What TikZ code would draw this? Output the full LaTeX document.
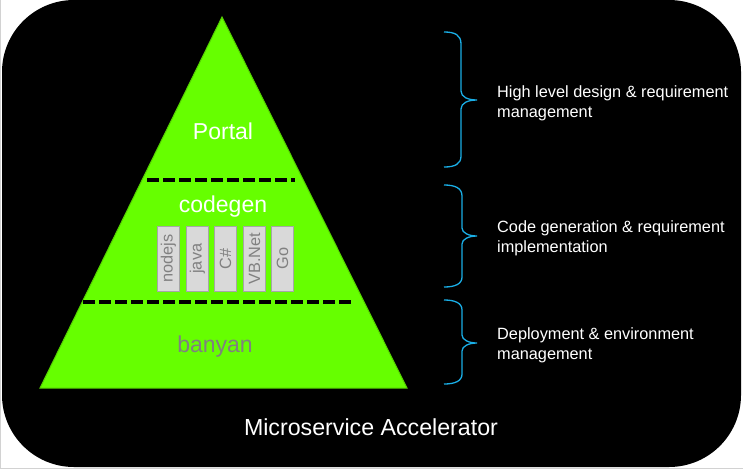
\documentclass[tikz,border=0pt]{standalone}
\usepackage{fontspec}
\setmainfont{Liberation Sans}
\definecolor{layergreen}{HTML}{66FF00}
\definecolor{layeredge}{HTML}{55D000}
\definecolor{langfill}{HTML}{D9D9D9}
\definecolor{langedge}{HTML}{A6A6A6}
\definecolor{langtext}{HTML}{808080}
\definecolor{bracecyan}{HTML}{1AAEE6}
\begin{document}
\begin{tikzpicture}[x=1pt, y=-1pt]
\tikzset{
  layer/.style={anchor=base, inner sep=0pt, font=\fontsize{23}{27}\selectfont},
  lang/.style={draw=langedge, fill=langfill, line width=0.8pt, rotate=90, minimum width=65pt, minimum height=22.5pt, inner sep=0pt, text=langtext, font=\fontsize{16.3}{19}\selectfont},
  note/.style={anchor=north west, inner sep=0pt, align=left, text=white, font=\fontsize{16.3}{20}\selectfont},
  split/.style={line width=3.5pt, dash pattern=on 11.5pt off 4.5pt},
  sidebrace/.style={draw=bracecyan, line width=1.3pt}
}
\useasboundingbox (0,0) rectangle (743,469);
\fill[white] (0,0) rectangle (743,469);
\fill[black, rounded corners=72pt] (2,0) rectangle (741,467);
\draw[gray!35, line width=1pt] (0.5,0) -- (0.5,468) -- (743,468);

\filldraw[fill=layergreen, draw=layeredge, line width=1pt] (222,17) -- (407,388) -- (40,388) -- cycle;
\draw[split] (147,180) -- (295,180);
\draw[split] (83,302) -- (353,302);

\node[layer, text=white] (portal) at (223,139) {Portal};
\node[layer, text=white] (codegen) at (223,212) {codegen};
\node[layer, text=langtext] (banyan) at (215,352) {banyan};

\node[lang] (nodejs) at (168.5,258.7) {nodejs};
\node[lang] (java) at (197.4,258.7) {java};
\node[lang] (csharp) at (225.4,258.7) {C\#};
\node[lang] (vbnet) at (254.5,258.7) {VB.Net};
\node[lang] (go) at (282.5,258.7) {Go};

\draw[sidebrace] (444,32) .. controls (455,32) and (461,35) .. (461,44) -- (461,91) .. controls (461,97) and (468,100) .. (477,100) .. controls (468,100) and (461,103) .. (461,109) -- (461,156) .. controls (461,164) and (455,167) .. (444,167);
\draw[sidebrace] (444,185) .. controls (455,185) and (462,188) .. (462,196) -- (462,228) .. controls (462,233) and (469,236) .. (477,236) .. controls (469,236) and (462,239) .. (462,244) -- (462,277) .. controls (462,284) and (455,287) .. (444,287);
\draw[sidebrace] (444,300) .. controls (455,300) and (462,303) .. (462,310) -- (462,335) .. controls (462,340) and (469,343) .. (477,343) .. controls (469,343) and (462,346) .. (462,351) -- (462,374) .. controls (462,381) and (455,384) .. (444,384);

\node[note] (design) at (497,85) {High level design \& requirement\\management};
\node[note] (implement) at (497,220) {Code generation \& requirement\\implementation};
\node[note] (deploy) at (497,327) {Deployment \& environment\\management};

\node[anchor=base, inner sep=0pt, text=white, font=\fontsize{23.2}{27}\selectfont] (title) at (371,435) {Microservice Accelerator};
\end{tikzpicture}
\end{document}
